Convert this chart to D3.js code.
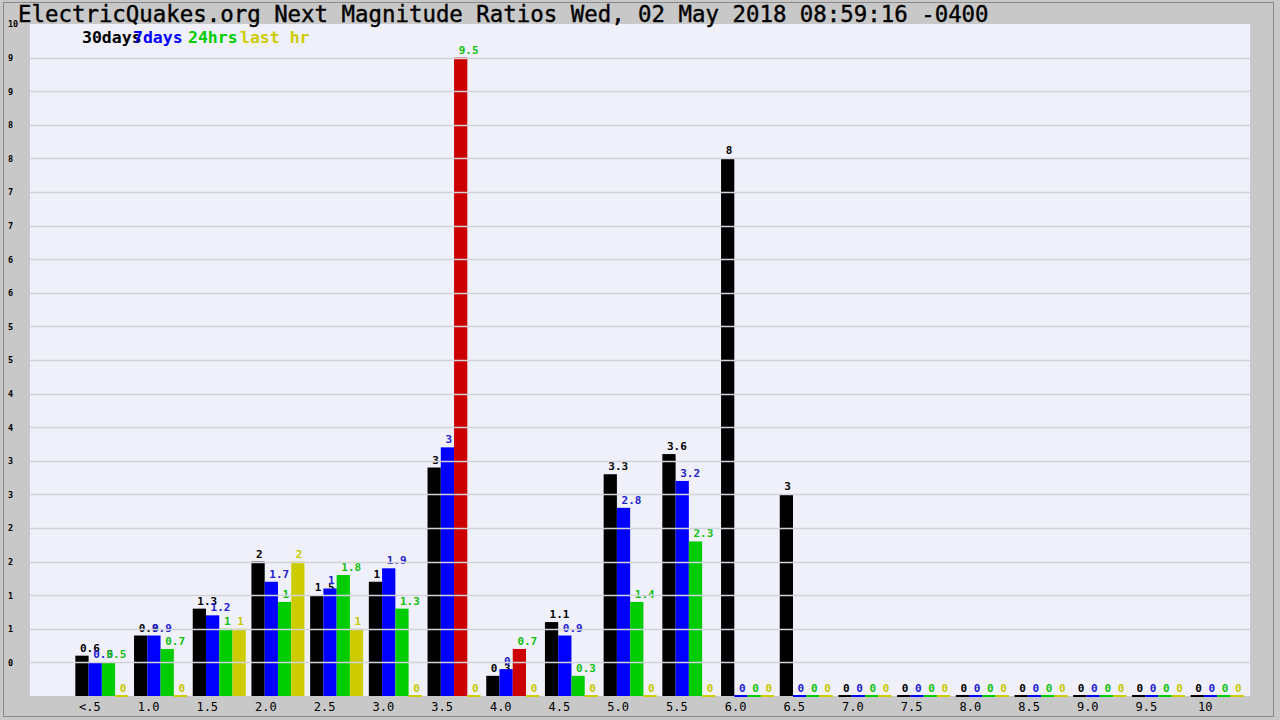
<!DOCTYPE html>
<html>
<head>
<meta charset="utf-8">
<script src="https://cdn.jsdelivr.net/npm/d3@7/dist/d3.min.js"></script>
<style>
  html, body { margin: 0; padding: 0; background: #c8c8c8; }
  svg { display: block; }
</style>
</head>
<body>
<svg id="chart" width="1280" height="720"></svg>
<script>
// ---- data ----
const categories = ["<.5","1.0","1.5","2.0","2.5","3.0","3.5","4.0","4.5","5.0","5.5","6.0","6.5","7.0","7.5","8.0","8.5","9.0","9.5","10"];
const days30  = [0.6, 0.9, 1.3, 2,   1.5, 1.7, 3.4, 0.3, 1.1, 3.3, 3.6, 8, 3, 0, 0, 0, 0, 0, 0, 0];
const days7   = [0.5, 0.9, 1.2, 1.7, 1.6, 1.9, 3.7, 0.4, 0.9, 2.8, 3.2, 0, 0, 0, 0, 0, 0, 0, 0, 0];
const hrs24   = [0.5, 0.7, 1,   1.4, 1.8, 1.3, 9.5, 0.7, 0.3, 1.4, 2.3, 0, 0, 0, 0, 0, 0, 0, 0, 0];
const lastHr  = [0,   0,   1,   2,   1,   0,   0,   0,   0,   0,   0,   0, 0, 0, 0, 0, 0, 0, 0, 0];
const alertCategories = ["3.5", "4.0"];   // 24hrs bars drawn in alert colour
const seriesNames = ["30days", "7days", "24hrs", "last hr"];
const yTickValues = [0.5,1,1.5,2,2.5,3,3.5,4,4.5,5,5.5,6,6.5,7,7.5,8,8.5,9,9.5,10];
const titleText = "ElectricQuakes.org Next Magnitude Ratios Wed, 02 May 2018 08:59:16 -0400";

// ---- styles ----
const seriesColors = ["#000000", "#0000ff", "#00cc00", "#cccc00"];
const labelColors  = ["#000000", "#2020d0", "#10c010", "#c8c800"];
const alertColor = "#cc0000";
const mono = "'DejaVu Sans Mono', monospace";

const series = [days30, days7, hrs24, lastHr];

const svg = d3.select("#chart");
const W = 1280, H = 720;
const plot = { left: 30, top: 24, right: 1250, bottom: 696 };

// background + frame
svg.append("rect").attr("x", 0).attr("y", 0).attr("width", W).attr("height", H).attr("fill", "#c8c8c8");
svg.append("rect").attr("x", 3.5).attr("y", 2.5).attr("width", 1270).attr("height", 714)
  .attr("fill", "none").attr("stroke", "#8a8a8a").attr("stroke-width", 1);
svg.append("rect").attr("x", plot.left).attr("y", plot.top)
  .attr("width", plot.right - plot.left).attr("height", plot.bottom - plot.top)
  .attr("fill", "#f0f0fa");

// scales
const y = d3.scaleLinear().domain([0, 10]).range([plot.bottom, plot.top]);
const x = d3.scaleBand().domain(categories).range([72.5, 1246.5])
  .paddingInner(0.097).paddingOuter(0.0485);
const xs = d3.scaleBand().domain(d3.range(series.length)).range([0, x.bandwidth()]).padding(0);

// bars + labels, series by series (later bars cover earlier labels)
series.forEach((vals, si) => {
  const g = svg.append("g");
  const rows = categories.map((c, i) => ({ c, v: vals[i] }));
  g.selectAll("rect").data(rows).join("rect")
    .attr("x", d => x(d.c) + xs(si))
    .attr("width", xs.bandwidth())
    .attr("y", d => d.v > 0 ? y(d.v) : y(0) - 1)
    .attr("height", d => d.v > 0 ? y(0) - y(d.v) : 2)
    .attr("fill", d => (si === 2 && alertCategories.includes(d.c)) ? alertColor : seriesColors[si]);
  g.selectAll("text").data(rows).join("text")
    .attr("x", d => x(d.c) + xs(si) + xs.bandwidth() / 2 - 2)
    .attr("y", d => y(d.v) - 4)
    .attr("font-family", mono).attr("font-size", 11).attr("font-weight", "bold")
    .attr("fill", labelColors[si])
    .text(d => String(d.v));
});

// horizontal gridlines on top of bars
svg.append("g").selectAll("line").data(yTickValues.filter(v => v < 10)).join("line")
  .attr("x1", plot.left).attr("x2", plot.right)
  .attr("y1", d => Math.round(y(d)) + 0.5).attr("y2", d => Math.round(y(d)) + 0.5)
  .attr("stroke", "#d2d2da").attr("stroke-width", 1.5);

// y axis (labels only)
const yAxis = svg.append("g").attr("transform", `translate(${plot.left},0)`)
  .call(d3.axisLeft(y).tickValues(yTickValues).tickFormat(v => Math.floor(v)).tickSize(0));
yAxis.select(".domain").remove();
yAxis.selectAll("text")
  .attr("x", 8 - plot.left).attr("text-anchor", "start").attr("dy", "0.35em")
  .attr("font-family", mono).attr("font-size", 8.5).attr("font-weight", "bold").attr("fill", "#000");

// x axis (labels only)
const xAxis = svg.append("g").attr("transform", `translate(0,${plot.bottom})`)
  .call(d3.axisBottom(x).tickSize(0));
xAxis.select(".domain").remove();
xAxis.selectAll("text")
  .attr("x", -12).attr("y", 15).attr("dy", 0)
  .attr("font-family", mono).attr("font-size", 12).attr("fill", "#000");

// legend
const legendX = [82, 133, 188, 240];
svg.append("g").selectAll("text").data(seriesNames).join("text")
  .attr("x", (d, i) => legendX[i]).attr("y", 43)
  .attr("font-family", mono).attr("font-size", 16.5).attr("font-weight", "bold")
  .attr("fill", (d, i) => seriesColors[i])
  .text(d => d);

// title
svg.append("text").attr("x", 18).attr("y", 22)
  .attr("font-family", mono).attr("font-size", 22.4)
  .attr("fill", "#000").attr("stroke", "#000").attr("stroke-width", 0.4)
  .text(titleText);
</script>
</body>
</html>
